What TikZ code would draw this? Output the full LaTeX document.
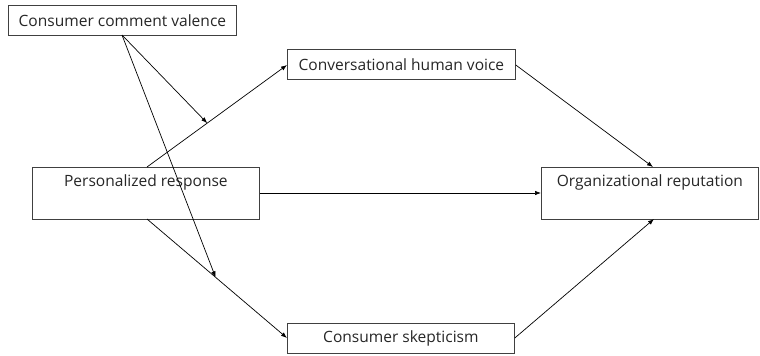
\documentclass[tikz,border=0pt]{standalone}
\usepackage{fontspec}
\setmainfont{Open Sans}[Ligatures=NoCommon]
\usetikzlibrary{arrows.meta,calc}
\begin{document}
\begin{tikzpicture}[x=1bp,y=-1bp,
  every node/.style={font=\fontsize{15.6}{18}\selectfont, text=black!85},
  smallbox/.style={draw=black!75, line width=0.8bp, rectangle, inner sep=0pt,
    anchor=north west, minimum width=228bp, minimum height=30bp},
  tallbox/.style={draw=black!75, line width=0.8bp, rectangle, inner xsep=0pt, inner ysep=0pt,
    anchor=north west, text height=19bp, text depth=33bp},
  link/.style={draw=black, line width=0.7bp, -{Latex[length=6bp,width=4.5bp]}}
]
\useasboundingbox (0,0) rectangle (760,355);

% boxes
\node[smallbox] (val) at (8,5) {Consumer comment valence};
\node[smallbox] (chv) at (287,49) {Conversational human voice};
\node[smallbox, minimum width=227bp] (skp) at (287,323) {Consumer skepticism};
\node[tallbox, minimum width=227bp] (per) at (32,167) {Personalized response};
\node[tallbox, minimum width=217bp] (rep) at (541,167) {Organizational reputation};

% anchor points on the box edges
\coordinate (perT) at (147,167);
\coordinate (perB) at (147,219);
\coordinate (repT) at (653,167);
\coordinate (repB) at (654,219);
\coordinate (valB) at (122,35);

% paths
\draw[link] (perT) -- (chv.west |- 0,65) coordinate (chvL);
\draw[link] (perB) -- (skp.west |- 0,338) coordinate (skpL);
\draw[link] (per.east |- 0,193) -- (rep.west |- 0,193);
\draw[link] (chv.east |- 0,65) -- (repT);
\draw[link] (skp.east |- 0,338) -- (repB);

% moderation arrows onto the paths
\draw[link] (valB) -- ($(perT)!0.43!(chvL)$);
\draw[link] (valB) -- ($(perB)!0.49!(skpL)$);
\end{tikzpicture}
\end{document}
